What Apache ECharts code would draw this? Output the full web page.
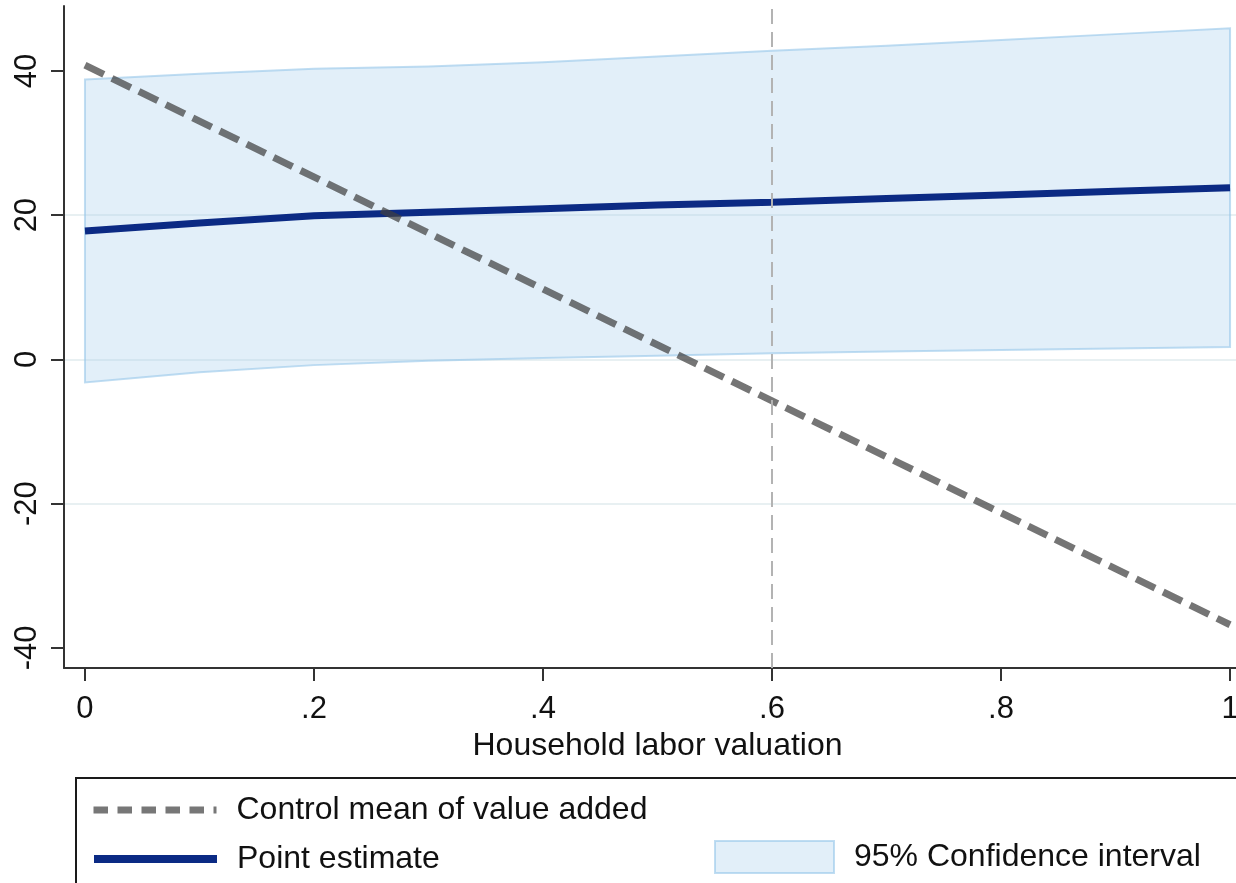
<!DOCTYPE html>
<html>
<head>
<meta charset="utf-8">
<script src="https://cdn.jsdelivr.net/npm/echarts@6/dist/echarts.min.js"></script>
<style>
  html, body { margin: 0; padding: 0; background: #ffffff; }
  #chart { width: 1236px; height: 883px; }
</style>
</head>
<body>
<div id="chart"></div>
<script>
// Household labor valuation grid and estimates
const xValues       = [0, 0.1, 0.2, 0.3, 0.4, 0.5, 0.6, 0.7, 0.8, 0.9, 1];
const pointEstimate = [17.8, 18.9, 19.9, 20.4, 20.9, 21.4, 21.8, 22.3, 22.8, 23.3, 23.8];
const ciUpper       = [38.8, 39.6, 40.3, 40.6, 41.2, 42.0, 42.8, 43.5, 44.3, 45.1, 45.9];
const ciLower       = [-3.2, -1.8, -0.8, -0.2, 0.2, 0.5, 0.85, 1.1, 1.3, 1.5, 1.7];

// Control mean of value added (straight line between the two ends)
const controlX    = [0, 1];
const controlMean = [40.8, -36.8];

// Reference valuation marked with a vertical line
const thresholdX = 0.6;

// Axis ticks and their labels
const xTicks      = [0, 0.2, 0.4, 0.6, 0.8, 1];
const xTickLabels = ['0', '.2', '.4', '.6', '.8', '1'];
const yTicks      = [-40, -20, 0, 20, 40];
const yTickLabels = ['-40', '-20', '0', '20', '40'];

const seriesNames = ['Control mean of value added', 'Point estimate', '95% Confidence interval'];
const xTitle = 'Household labor valuation';

const FONT = "'Liberation Sans', Arial, Helvetica, sans-serif";
const BAND_FILL = 'rgba(173, 210, 238, 0.35)';
const BAND_EDGE = 'rgba(150, 198, 234, 0.6)';
const NAVY = '#0b2a84';
const DASH_GRAY = 'rgba(64, 64, 64, 0.72)';
const AXIS_COLOR = '#333333';
const TEXT_COLOR = '#111111';

function tickLabel(ticks, labels) {
  return function (v) {
    for (let i = 0; i < ticks.length; i++) {
      if (Math.abs(ticks[i] - v) < 1e-9) return labels[i];
    }
    return '';
  };
}

const chart = echarts.init(document.getElementById('chart'), null, { renderer: 'canvas' });

const legendText = { fontSize: 32, color: TEXT_COLOR, fontFamily: FONT, padding: [0, 0, 0, 15] };

const option = {
  animation: false,
  backgroundColor: '#ffffff',
  textStyle: { fontFamily: FONT },
  grid: {
    left: 64, top: 6, width: 1187, height: 662,
    containLabel: false, outerBoundsMode: 'none'
  },
  xAxis: {
    type: 'value',
    min: -0.0183, max: 1.0183,
    name: xTitle,
    nameLocation: 'middle',
    nameGap: 58,
    nameTextStyle: { fontSize: 32, color: TEXT_COLOR, fontFamily: FONT },
    axisLine: { show: true, onZero: false, lineStyle: { color: AXIS_COLOR, width: 2 } },
    axisTick: { show: true, inside: false, length: 13, customValues: xTicks,
                lineStyle: { color: AXIS_COLOR, width: 2 } },
    axisLabel: { show: true, customValues: xTicks, margin: 26, fontSize: 31, color: TEXT_COLOR,
                 fontFamily: FONT, formatter: tickLabel(xTicks, xTickLabels) },
    splitLine: { show: false }
  },
  yAxis: {
    type: 'value',
    min: -42.8, max: 49,
    axisLine: { show: true, onZero: false, lineStyle: { color: AXIS_COLOR, width: 2 } },
    axisTick: { show: true, inside: false, length: 13, customValues: yTicks,
                lineStyle: { color: AXIS_COLOR, width: 2 } },
    axisLabel: { show: true, customValues: yTicks, rotate: 90, margin: 21, fontSize: 31,
                 color: TEXT_COLOR, fontFamily: FONT, formatter: tickLabel(yTicks, yTickLabels) },
    splitLine: { show: true, showMinLine: false, showMaxLine: false,
                 lineStyle: { color: '#e8f0f2', width: 2 } }
  },
  legend: [
    {
      data: [seriesNames[0]],
      left: 90, top: 794, padding: 0, itemGap: 0,
      itemWidth: 123, itemHeight: 8, selectedMode: false,
      lineStyle: { color: '#777777', width: 7, type: [14.5, 9.5] },
      itemStyle: { opacity: 0 },
      textStyle: legendText
    },
    {
      data: [seriesNames[1]],
      left: 90, top: 843, padding: 0, itemGap: 0,
      itemWidth: 123, itemHeight: 8, selectedMode: false,
      lineStyle: { color: NAVY, width: 8, type: 'solid' },
      itemStyle: { opacity: 0 },
      textStyle: legendText
    },
    {
      data: [{ name: seriesNames[2], icon: 'rect' }],
      left: 714, top: 840, padding: 0, itemGap: 0,
      itemWidth: 119, itemHeight: 32, selectedMode: false,
      itemStyle: { color: BAND_FILL, borderColor: BAND_EDGE, borderWidth: 2 },
      textStyle: legendText
    }
  ],
  graphic: [
    {
      type: 'rect',
      shape: { x: 76, y: 778, width: 1200, height: 200 },
      style: { fill: 'transparent', stroke: '#1a1a1a', lineWidth: 2 },
      silent: true, z: 0
    }
  ],
  series: [
    {
      name: seriesNames[2],
      type: 'custom',
      z: 1,
      itemStyle: { color: BAND_FILL, borderColor: BAND_EDGE, borderWidth: 2 },
      data: xValues.map(function (x, i) { return [x, ciLower[i], ciUpper[i]]; }),
      encode: { x: 0, y: [1, 2] },
      renderItem: function (params, api) {
        if (params.dataIndex !== 0) return null;
        const pts = [];
        for (let i = 0; i < xValues.length; i++) pts.push(api.coord([xValues[i], ciUpper[i]]));
        for (let i = xValues.length - 1; i >= 0; i--) pts.push(api.coord([xValues[i], ciLower[i]]));
        return {
          type: 'polygon',
          shape: { points: pts },
          style: { fill: BAND_FILL, stroke: BAND_EDGE, lineWidth: 2 }
        };
      },
      markLine: {
        silent: true,
        symbol: ['none', 'none'],
        label: { show: false },
        lineStyle: { color: '#b3b3b3', width: 2, type: [15, 8] },
        data: [{ xAxis: thresholdX }]
      }
    },
    {
      name: seriesNames[1],
      type: 'line',
      z: 3,
      symbol: 'none',
      showSymbol: false,
      lineStyle: { color: NAVY, width: 7 },
      itemStyle: { color: NAVY },
      data: xValues.map(function (x, i) { return [x, pointEstimate[i]]; })
    },
    {
      name: seriesNames[0],
      type: 'line',
      z: 4,
      symbol: 'none',
      showSymbol: false,
      lineStyle: { color: DASH_GRAY, width: 7, type: [21, 9] },
      itemStyle: { color: '#777777' },
      data: controlX.map(function (x, i) { return [x, controlMean[i]]; })
    }
  ]
};

chart.setOption(option);
</script>
</body>
</html>
